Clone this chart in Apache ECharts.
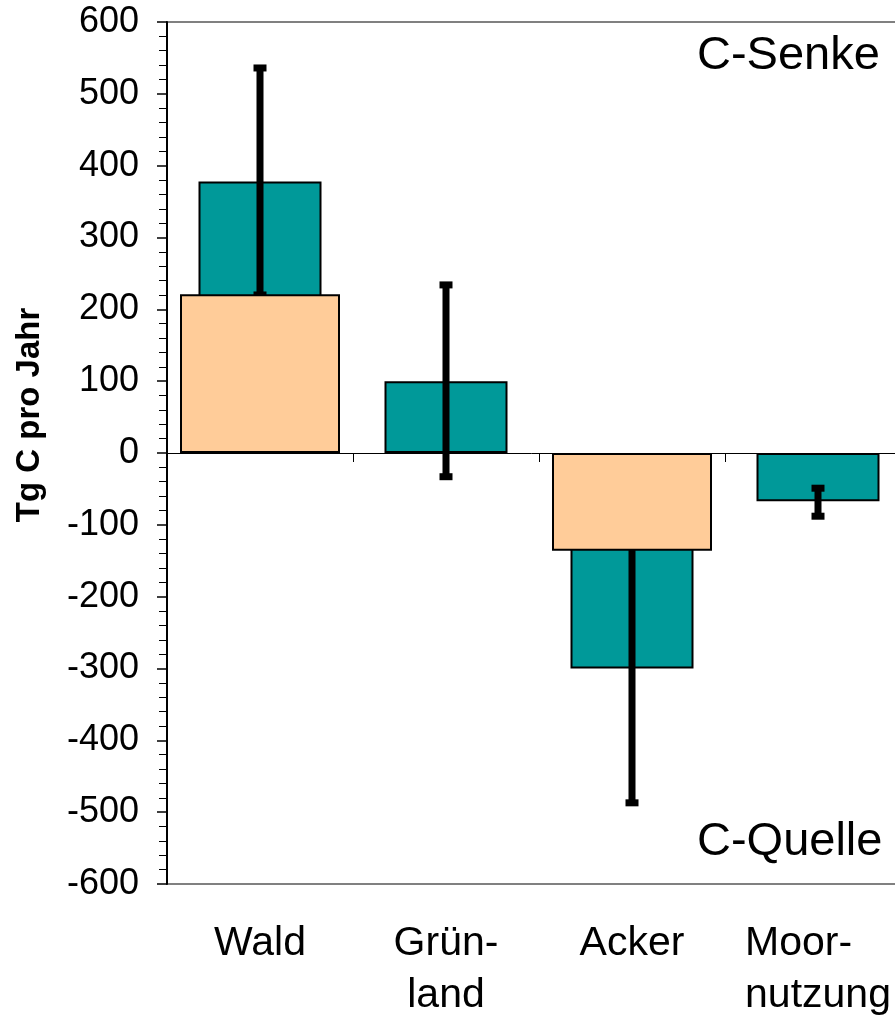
<!DOCTYPE html>
<html>
<head>
<meta charset="utf-8">
<script src="https://cdn.jsdelivr.net/npm/echarts@6/dist/echarts.min.js"></script>
<style>
html,body{margin:0;padding:0;background:#fff;}
#chart{width:895px;height:1017px;}
</style>
</head>
<body>
<div id="chart"></div>
<script>
var categories = ['Wald', 'Grünland', 'Acker', 'Moornutzung'];
var categoryLabels = ['Wald', 'Grün-\nland', 'Acker', 'Moor-\nnutzung'];
var tealValues = [378, 100, -300, -67];
var peachValues = [221, '-', -136, '-'];
var errorLow = [220, -33, -487, -88];
var errorHigh = [536, 234, -113, -49];
var yTicks = {min: -600, max: 600, interval: 100};
var yTitle = 'Tg C pro Jahr';
var sinkLabel = 'C-Senke';
var sourceLabel = 'C-Quelle';

var FONT = '"Liberation Sans", Arial, sans-serif';
var errData = categories.map(function (c, i) { return [i, errorLow[i], errorHigh[i]]; });

var chart = echarts.init(document.getElementById('chart'));
chart.setOption({
  backgroundColor: '#ffffff',
  animation: false,
  textStyle: {fontFamily: FONT},
  grid: {left: 167, top: 22, width: 744, height: 862, containLabel: false, outerBoundsMode: 'none',
    show: true, borderColor: '#808080', borderWidth: 2, backgroundColor: 'transparent'},
  xAxis: [{
    type: 'category',
    data: categories,
    boundaryGap: true,
    axisLine: {show: true, onZero: true, lineStyle: {color: '#000', width: 1}},
    axisTick: {show: true, inside: false, length: 9, interval: 0, lineStyle: {color: '#000', width: 1}},
    axisLabel: {show: false},
    splitLine: {show: false},
    z: 1
  }, {
    type: 'category',
    data: categories,
    position: 'bottom',
    boundaryGap: true,
    axisLine: {show: false, onZero: false},
    axisTick: {show: false},
    axisLabel: {
      show: true, interval: 0, hideOverlap: false, margin: 34, fontSize: 41, lineHeight: 52, color: '#000', fontFamily: FONT,
      formatter: function (v, i) {
        return i === 3 ? '{l|' + categoryLabels[i].split('\n').join('}\n{l|') + '}' : categoryLabels[i];
      },
      rich: {l: {align: 'left', fontSize: 41, lineHeight: 52, color: '#000', fontFamily: FONT}}
    },
    splitLine: {show: false}
  }],
  yAxis: {
    type: 'value',
    min: yTicks.min, max: yTicks.max, interval: yTicks.interval,
    axisLine: {show: true, lineStyle: {color: '#000', width: 2}},
    axisTick: {show: true, inside: false, length: 10, lineStyle: {color: '#000', width: 1.5}},
    minorTick: {show: true, splitNumber: 5, length: 8, lineStyle: {color: '#000', width: 1}},
    splitLine: {show: false},
    axisLabel: {margin: 28, fontSize: 36, color: '#000', fontFamily: FONT},
    z: 5
  },
  graphic: [{
    type: 'text', x: 30, y: 415, rotation: Math.PI / 2,
    style: {text: yTitle, font: 'bold 33px ' + FONT, fill: '#000', align: 'center', verticalAlign: 'middle'}
  }, {
    type: 'text', left: 697, top: 33,
    style: {text: sinkLabel, font: '47px ' + FONT, fill: '#000'}
  }, {
    type: 'text', left: 697, top: 819,
    style: {text: sourceLabel, font: '47px ' + FONT, fill: '#000'}
  }],
  series: [{
    type: 'bar',
    xAxisIndex: 0,
    data: tealValues,
    barWidth: 123,
    itemStyle: {color: '#009999', borderColor: '#000', borderWidth: 2},
    z: 2
  }, {
    type: 'custom',
    xAxisIndex: 0,
    data: errData,
    encode: {x: 0, y: [1, 2]},
    z: 3,
    renderItem: function (params, api) {
      var x = api.coord([api.value(0), 0])[0];
      var yl = api.coord([api.value(0), api.value(1)])[1];
      var yh = api.coord([api.value(0), api.value(2)])[1];
      return {type: 'group', children: [
        {type: 'rect', shape: {x: x - 3.5, y: yh, width: 7, height: yl - yh}, style: {fill: '#000'}},
        {type: 'rect', shape: {x: x - 6.5, y: yh - 3.5, width: 13, height: 7}, style: {fill: '#000'}},
        {type: 'rect', shape: {x: x - 6.5, y: yl - 3.5, width: 13, height: 7}, style: {fill: '#000'}}
      ]};
    }
  }, {
    type: 'bar',
    xAxisIndex: 1,
    data: peachValues,
    barWidth: 160,
    itemStyle: {color: '#FFCC99', borderColor: '#000', borderWidth: 2},
    z: 4
  }]
});
</script>
</body>
</html>
